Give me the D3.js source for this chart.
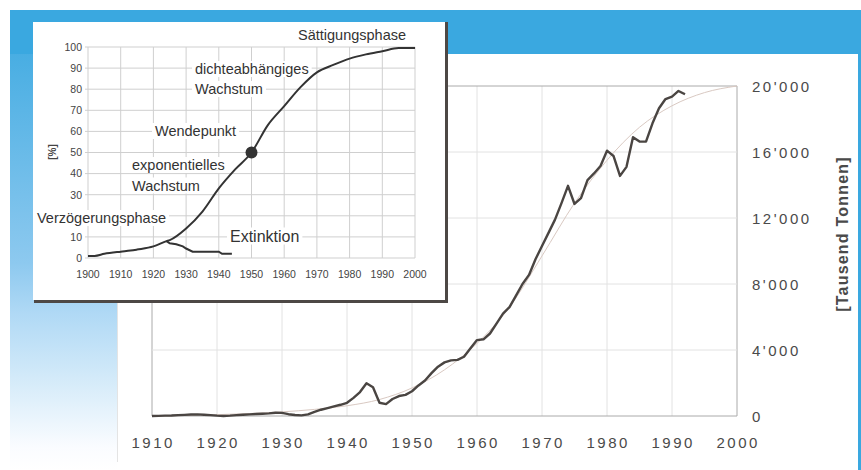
<!DOCTYPE html>
<html>
<head>
<meta charset="utf-8">
<script src="https://cdn.jsdelivr.net/npm/d3@7"></script>
<style>
  body { margin: 0; background: #fff; }
  text { font-family: "Liberation Sans", Arial, sans-serif; }
</style>
</head>
<body>
<script>
// main chart: yearly catch [Tausend Tonnen]
var mainYears = [1910, 1911, 1912, 1913, 1914, 1915, 1916, 1917, 1918, 1919,
                 1920, 1921, 1922, 1923, 1924, 1925, 1926, 1927, 1928, 1929,
                 1930, 1931, 1932, 1933, 1934, 1935, 1936, 1937, 1938, 1939,
                 1940, 1941, 1942, 1943, 1944, 1945, 1946, 1947, 1948, 1949,
                 1950, 1951, 1952, 1953, 1954, 1955, 1956, 1957, 1958, 1959,
                 1960, 1961, 1962, 1963, 1964, 1965, 1966, 1967, 1968, 1969,
                 1970, 1971, 1972, 1973, 1974, 1975, 1976, 1977, 1978, 1979,
                 1980, 1981, 1982, 1983, 1984, 1985, 1986, 1987, 1988, 1989,
                 1990, 1991, 1992];
var mainValues = [0, 10, 20, 30, 50, 70, 90, 100, 80, 50,
                  20, 0, 20, 50, 80, 100, 120, 140, 160, 200,
                  190, 110, 60, 40, 100, 250, 380, 480, 580, 680,
                  800, 1100, 1450, 1980, 1740, 800, 720, 1030, 1210, 1280,
                  1500, 1850, 2150, 2600, 2990, 3250, 3370, 3400, 3590, 4100,
                  4600, 4650, 5000, 5600, 6200, 6600, 7300, 8000, 8550, 9500,
                  10300, 11100, 11900, 12900, 13950, 12850, 13200, 14300, 14700, 15150,
                  16080, 15760, 14550, 15100, 16900, 16630, 16630, 17740, 18650, 19210,
                  19360, 19700, 19500];

// smooth trend curve in the main chart
var trendYears = [1910, 1915, 1920, 1925, 1930, 1935, 1940, 1945, 1950, 1955,
                  1960, 1965, 1970, 1975, 1980, 1985, 1990, 1995, 2000];
var trendValues = [0, 30, 80, 150, 250, 400, 620, 1000, 1700, 2800,
                   4400, 6600, 9700, 12900, 15500, 17500, 18800, 19600, 20000];

var mainXTicks = [1910, 1920, 1930, 1940, 1950, 1960, 1970, 1980, 1990, 2000];
var mainYTicks = [0, 4000, 8000, 12000, 16000, 20000];
var mainYLabels = ["0", "4'000", "8'000", "12'000", "16'000", "20'000"];

// inset: logistic growth [%]
var insetYears = [1900, 1902, 1905, 1910, 1913, 1915, 1920, 1924, 1925, 1930, 1935, 1940,
                  1945, 1950, 1955, 1960, 1965, 1970, 1975, 1980, 1985, 1990, 1995, 2000];
var insetPct = [1, 1, 2, 3, 3.5, 4, 5.5, 8, 8.5, 14, 22, 33,
                42, 50, 63, 72, 81, 88, 91.5, 94.5, 96.5, 98, 99.5, 99.5];
// extinction branch
var extYears = [1924, 1925, 1927, 1929, 1930, 1932, 1940, 1941, 1944];
var extPct = [8, 7, 6.5, 5.5, 4.5, 3, 3, 2, 2];

var insetXTicks = [1900, 1910, 1920, 1930, 1940, 1950, 1960, 1970, 1980, 1990, 2000];
var insetYTicks = [0, 10, 20, 30, 40, 50, 60, 70, 80, 90, 100];
// "20" is hidden behind "Verzögerungsphase" in the original
var insetYLabels = [0, 10, 30, 40, 50, 60, 70, 80, 90, 100];

var labels = [
  {text: "Sättigungsphase", x: 298, y: 40, size: 14.5},
  {text: "dichteabhängiges", x: 195, y: 74, size: 14.5},
  {text: "Wachstum", x: 195, y: 94, size: 14.5},
  {text: "Wendepunkt", x: 155, y: 136, size: 14.5},
  {text: "exponentielles", x: 132, y: 170, size: 14.5},
  {text: "Wachstum", x: 132, y: 190.5, size: 14.5},
  {text: "Verzögerungsphase", x: 37, y: 223, size: 14.5},
  {text: "Extinktion", x: 230, y: 241.5, size: 16}
];

var BLUE = "#3aa8e0";

var svg = d3.select("body").append("svg")
                           .attr("width", 861)
                           .attr("height", 470);

// background frame
var grad = svg.append("defs").append("linearGradient")
                             .attr("id", "fade")
                             .attr("x1", 0).attr("y1", 0)
                             .attr("x2", 0).attr("y2", 1);
grad.append("stop").attr("offset", 0).attr("stop-color", BLUE);
grad.append("stop").attr("offset", 0.55).attr("stop-color", "#8dc9ef");
grad.append("stop").attr("offset", 0.66).attr("stop-color", "#b0d9f5");
grad.append("stop").attr("offset", 0.8).attr("stop-color", "#d3eaf9");
grad.append("stop").attr("offset", 0.95).attr("stop-color", "#fafcff");
grad.append("stop").attr("offset", 1).attr("stop-color", "#fff");

svg.append("rect").attr("x", 10).attr("y", 10).attr("width", 107).attr("height", 460)
                  .attr("fill", "url(#fade)");
svg.append("rect").attr("x", 10).attr("y", 10).attr("width", 851).attr("height", 44)
                  .attr("fill", BLUE);
svg.append("rect").attr("x", 858).attr("y", 10).attr("width", 3).attr("height", 460)
                  .attr("fill", BLUE);
svg.append("line").attr("x1", 117.5).attr("y1", 300).attr("x2", 117.5).attr("y2", 462)
                  .attr("stroke", "#e4e4e4");

// main chart
var x = d3.scaleLinear().domain([1910, 2000]).range([152, 737]);
var y = d3.scaleLinear().domain([0, 20000]).range([416, 86]);

var main = svg.append("g");

// gridlines
main.selectAll(".vg").data(mainXTicks).enter().append("line")
    .attr("x1", function(d) { return x(d); })
    .attr("x2", function(d) { return x(d); })
    .attr("y1", y(0)).attr("y2", y(20000))
    .attr("stroke", function(d) { return (d == 1910 || d == 2000) ? "#aaa" : "#e2e2e2"; })
    .attr("stroke-width", 1);
main.selectAll(".hg").data(mainYTicks).enter().append("line")
    .attr("x1", x(1910)).attr("x2", x(2000))
    .attr("y1", function(d) { return y(d); })
    .attr("y2", function(d) { return y(d); })
    .attr("stroke", function(d) { return (d == 0 || d == 20000) ? "#aaa" : "#e2e2e2"; })
    .attr("stroke-width", 1);

// trend curve
var trend = d3.zip(trendYears, trendValues);
main.append("path").datum(trend)
    .attr("d", d3.line().x(function(d) { return x(d[0]); })
                        .y(function(d) { return y(d[1]); })
                        .curve(d3.curveMonotoneX))
    .attr("fill", "none")
    .attr("stroke", "#d9c9c2")
    .attr("stroke-width", 1);

// yearly data
var series = d3.zip(mainYears, mainValues);
main.append("path").datum(series)
    .attr("d", d3.line().x(function(d) { return x(d[0]); })
                        .y(function(d) { return y(d[1]); }))
    .attr("fill", "none")
    .attr("stroke", "#4a4542")
    .attr("stroke-width", 2.4)
    .attr("stroke-linejoin", "round");

// tick labels
main.selectAll(".xl").data(mainXTicks).enter().append("text")
    .attr("x", function(d) { return x(d) + 1.2; })
    .attr("y", 448)
    .attr("text-anchor", "middle")
    .attr("font-size", 15)
    .attr("letter-spacing", 2.5)
    .attr("fill", "#4a4a4a")
    .text(function(d) { return d; });
main.selectAll(".yl").data(mainYTicks).enter().append("text")
    .attr("x", 752)
    .attr("y", function(d) { return y(d) + 5.5; })
    .attr("font-size", 15)
    .attr("letter-spacing", 2.5)
    .attr("fill", "#4a4a4a")
    .text(function(d, i) { return mainYLabels[i]; });
main.append("text")
    .attr("transform", "translate(848,234) rotate(-90)")
    .attr("text-anchor", "middle")
    .attr("font-size", 16)
    .attr("font-weight", "bold")
    .attr("letter-spacing", 1.2)
    .attr("fill", "#4a4a4a")
    .text("[Tausend Tonnen]");

// inset box with its dark edge
svg.append("rect").attr("x", 33).attr("y", 22).attr("width", 412).attr("height", 278)
                  .attr("fill", "#fff");
svg.append("line").attr("x1", 34).attr("y1", 301.5).attr("x2", 448).attr("y2", 301.5)
                  .attr("stroke", "#4d4845").attr("stroke-width", 3);
svg.append("line").attr("x1", 446.5).attr("y1", 22).attr("x2", 446.5).attr("y2", 303)
                  .attr("stroke", "#4d4845").attr("stroke-width", 3);

var ix = d3.scaleLinear().domain([1900, 2000]).range([88, 415]);
var iy = d3.scaleLinear().domain([0, 100]).range([258, 47]);

var inset = svg.append("g");

inset.selectAll(".ivg").data(insetXTicks).enter().append("line")
     .attr("x1", function(d) { return ix(d); })
     .attr("x2", function(d) { return ix(d); })
     .attr("y1", iy(0)).attr("y2", iy(100))
     .attr("stroke", "#cfcfcf");
inset.selectAll(".ihg").data(insetYTicks).enter().append("line")
     .attr("x1", ix(1900) - 3).attr("x2", ix(2000))
     .attr("y1", function(d) { return iy(d); })
     .attr("y2", function(d) { return iy(d); })
     .attr("stroke", "#cfcfcf");

inset.selectAll(".ixl").data(insetXTicks).enter().append("text")
     .attr("x", function(d) { return ix(d); })
     .attr("y", 278)
     .attr("text-anchor", "middle")
     .attr("font-size", 10.5)
     .attr("fill", "#444")
     .text(function(d) { return d; });
inset.selectAll(".iyl").data(insetYLabels).enter().append("text")
     .attr("x", 82)
     .attr("y", function(d) { return iy(d) + 3.8; })
     .attr("text-anchor", "end")
     .attr("font-size", 10.5)
     .attr("fill", "#444")
     .text(function(d) { return d; });
inset.append("text")
     .attr("transform", "translate(56,152) rotate(-90)")
     .attr("text-anchor", "middle")
     .attr("font-size", 10)
     .attr("font-weight", "bold")
     .attr("fill", "#444")
     .text("[%]");

// text labels, white behind them so the grid stops at the words
labels.forEach(function(l) {
    var t = inset.append("text")
                 .attr("x", l.x).attr("y", l.y)
                 .attr("font-size", l.size)
                 .attr("fill", "#333")
                 .text(l.text);
    var b = t.node().getBBox();
    inset.insert("rect", function() { return t.node(); })
         .attr("x", b.x - 3).attr("y", b.y)
         .attr("width", b.width + 6).attr("height", b.height)
         .attr("fill", "#fff");
});

var line = d3.line().x(function(d) { return ix(d[0]); })
                    .y(function(d) { return iy(d[1]); });
inset.append("path").datum(d3.zip(insetYears, insetPct))
     .attr("d", line.curve(d3.curveMonotoneX))
     .attr("fill", "none")
     .attr("stroke", "#333")
     .attr("stroke-width", 2);
inset.append("path").datum(d3.zip(extYears, extPct))
     .attr("d", d3.line().x(function(d) { return ix(d[0]); })
                         .y(function(d) { return iy(d[1]); }))
     .attr("fill", "none")
     .attr("stroke", "#333")
     .attr("stroke-width", 2);

// inflection point
inset.append("circle")
     .attr("cx", ix(1950)).attr("cy", iy(50)).attr("r", 6)
     .attr("fill", "#333");
</script>
</body>
</html>
